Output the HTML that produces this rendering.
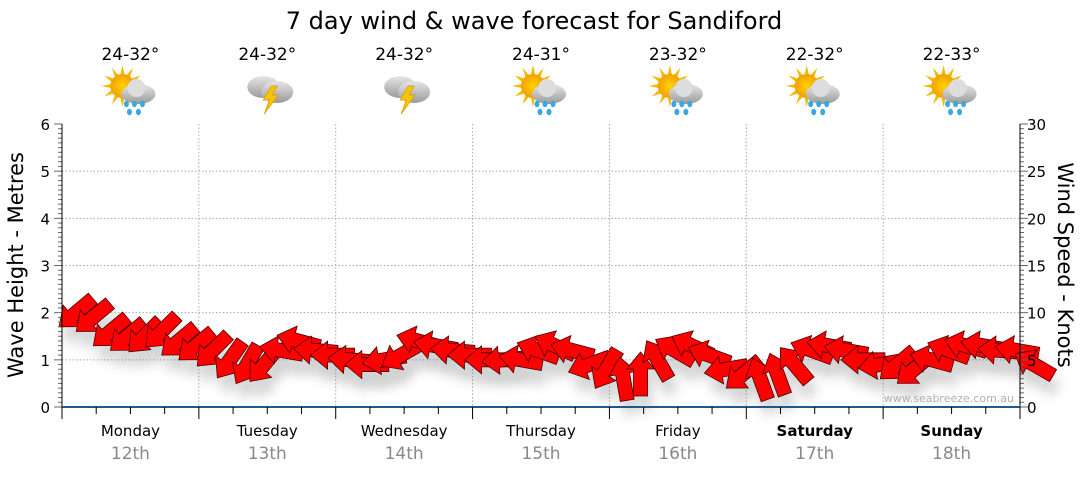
<!DOCTYPE html>
<html><head><meta charset="utf-8"><style>
body{margin:0;background:#fff;font-family:"Liberation Sans","DejaVu Sans",sans-serif}
svg text{font-family:"DejaVu Sans","Liberation Sans",sans-serif}
</style></head><body>
<svg id="c" width="1080" height="475" viewBox="0 0 1080 475">
<defs>
<filter id="sh" x="-50%" y="-50%" width="200%" height="200%"><feGaussianBlur stdDeviation="6"/></filter>
<radialGradient id="sun" cx="50%" cy="50%" r="50%"><stop offset="0" stop-color="#ffd400"/><stop offset="1" stop-color="#f2a000"/></radialGradient>
<linearGradient id="cl" x1="0" y1="0" x2="0" y2="1"><stop offset="0" stop-color="#e6e6e6"/><stop offset="1" stop-color="#9a9a9a"/></linearGradient>
</defs>
<text x="534" y="29" font-size="24" text-anchor="middle" fill="#000">7 day wind &amp; wave forecast for Sandiford</text>
<g id="grid"></g>
<g id="shadows" opacity="0.3"></g>
<g id="arrows"></g>
<g id="axes"></g>
<g id="days"></g>
<text x="1014" y="402" font-size="11" text-anchor="end" fill="#b0b0b0">www.seabreeze.com.au</text>
<text transform="translate(23,265) rotate(-90)" font-size="21" text-anchor="middle">Wave Height - Metres</text>
<text transform="translate(1058,265) rotate(90)" font-size="21" text-anchor="middle">Wind Speed - Knots</text>
</svg>
<script>
const dayNames=["Monday","Tuesday","Wednesday","Thursday","Friday","Saturday","Sunday"];
const dayDates=["12th","13th","14th","15th","16th","17th","18th"];
const temps=["24-32°","24-32°","24-32°","24-31°","23-32°","22-32°","22-33°"];
const icons=["sunrain","storm","storm","sunrain","sunrain","sunrain","sunrain"];
const waveTicks=[0,1,2,3,4,5,6];
const windTicks=[0,5,10,15,20,25,30];
// wind every 3 hours: speed (knots) and arrow rotation (deg, 0 = pointing left, + = clockwise)
const windSpeed=[10,9.5,8,7.5,7.5,8,7,6.5,6,5,4.5,4.5,6,7,6,5.5,5,4.5,5,5.5,7,6.5,6,5.5,5,5,5,6,6.5,6,4.5,4,3,3.5,5,6,6.5,5.5,4,3.5,3,3.5,4.5,6,6.5,6,5,4.5,4.5,4,5,6,6.5,6.5,6,6,4.5];
const windDir=[-40,-40,-40,-40,-45,-45,-40,-40,-45,-55,-60,-50,10,15,5,0,5,0,-10,-30,15,10,5,0,0,-5,10,20,25,15,-20,-60,80,90,60,30,25,20,-10,-40,70,70,50,20,10,10,0,-10,-40,-40,15,20,15,10,5,10,30];
const svg=document.getElementById('c');
const NS='http://www.w3.org/2000/svg';
const X0=62,X1=1020,Y0=407,YT=124;
const dayW=(X1-X0)/7;
const yW=m=>Y0-(Y0-YT)*m/6, yK=k=>Y0-(Y0-YT)*k/30;
const xH=h=>X0+dayW*h/24+14;
function el(t,a,p){const e=document.createElementNS(NS,t);for(const k in a)e.setAttribute(k,a[k]);p.appendChild(e);return e;}
const grid=document.getElementById('grid'),axes=document.getElementById('axes'),days=document.getElementById('days');
waveTicks.forEach((v,i)=>{
 if(v>0&&v<6){const l=el('line',{x1:X0,x2:X1,y1:yW(v),y2:yW(v),stroke:'#aaa','stroke-dasharray':'1.5,2'},grid);
 
 }
 const t=el('text',{x:50,y:yW(v)+6,'font-size':15,'text-anchor':'end'},axes);t.textContent=v;
 
 
});
windTicks.forEach(v=>{
 const t=el('text',{x:1027,y:yK(v)+6,'font-size':15},axes);t.textContent=v;
 
 
});
for(let m=0;m<=60;m++){const y=yW(m/10);const len=m%10==0?8:4;
 el('line',{x1:X0-len,x2:X0,y1:y,y2:y,stroke:'#666'},axes);
 el('line',{x1:X1,x2:X1+(m%10==0?8:4),y1:y,y2:y,stroke:'#666'},axes);}
for(let d=1;d<7;d++){const x=X0+d*dayW;const l=el('line',{x1:x,x2:x,y1:YT,y2:Y0,stroke:'#aaa','stroke-dasharray':'1.5,2'},grid);
 
 }
el('line',{x1:X0,x2:X0,y1:YT,y2:Y0,stroke:'#000'},axes);
el('line',{x1:X1,x2:X1,y1:YT,y2:Y0,stroke:'#000'},axes);
el('line',{x1:X0,x2:X1,y1:Y0,y2:Y0,stroke:'#1d5b8c','stroke-width':2},axes);
for(let q=0;q<=28;q++){const x=X0+q*dayW/4;el('line',{x1:x,x2:x,y1:Y0,y2:Y0+(q%4==0?12:7),stroke:'#000'},axes);}
function icon(g,type,cx,cy){
 if(type=="sunrain"){
  for(let i=0;i<12;i++){const a=i*Math.PI/6;el('polygon',{points:`${cx-10+Math.cos(a)*21},${cy-6+Math.sin(a)*21} ${cx-10+Math.cos(a+0.2)*11},${cy-6+Math.sin(a+0.2)*11} ${cx-10+Math.cos(a-0.2)*11},${cy-6+Math.sin(a-0.2)*11}`,fill:'#f5b800'},g);}
  el('circle',{cx:cx-10,cy:cy-6,r:12,fill:'url(#sun)'},g);
  el('ellipse',{cx:cx+6,cy:cy+2,rx:17,ry:10,fill:'url(#cl)'},g);
  el('circle',{cx:cx+4,cy:cy-4,r:9,fill:'#ddd'},g);
  [[-6,12],[2,12],[10,12],[-3,20],[6,20]].forEach(p=>el('ellipse',{cx:cx+p[0],cy:cy+p[1],rx:2.5,ry:3.2,fill:'#3aa8e0'},g));
 }else{
  el('ellipse',{cx:cx-6,cy:cy-5,rx:16,ry:11,fill:'url(#cl)'},g);
  el('ellipse',{cx:cx+8,cy:cy,rx:16,ry:11,fill:'url(#cl)'},g);
  el('polygon',{points:`${cx+2},${cy-6} ${cx-6},${cy+8} ${cx},${cy+8} ${cx-5},${cy+22} ${cx+9},${cy+3} ${cx+3},${cy+3} ${cx+8},${cy-6}`,fill:'#f6c400',stroke:'#d89a00','stroke-width':0.7},g);
 }
}
dayNames.forEach((n,i)=>{
 const cx=X0+dayW*(i+0.5);
 const bold=i>=5;
 const t=el('text',{x:cx,y:436,'font-size':15,'text-anchor':'middle','font-weight':bold?'bold':'normal'},days);t.textContent=n;
 
 
 const d=el('text',{x:cx,y:459,'font-size':17,'text-anchor':'middle',fill:'#888'},days);d.textContent=dayDates[i];
 
 
 const tp=el('text',{x:cx,y:60,'font-size':17,'text-anchor':'middle'},days);tp.textContent=temps[i];
 
 
 const g=el('g',{},days);
 
 
 icon(g,icons[i],cx+2,92);
});
const ag=document.getElementById('arrows'),sg=document.getElementById('shadows');
const shape="M-22,0 L-5,-14 L-5,-7 L22,-7 L22,7 L-5,7 L-5,14 Z";
windSpeed.forEach((s,i)=>{
 const x=xH(i*3),y=yK(s);
 const sh=el('path',{d:shape,fill:'#666',filter:'url(#sh)',transform:`translate(${x+4},${y+14}) rotate(${windDir[i]})`},sg);
 const a=el('path',{d:shape,fill:'#ff0000',stroke:'#4a0000','stroke-width':0.8,transform:`translate(${x},${y}) rotate(${windDir[i]})`},ag);
 
 
});
</script>
</body></html>
